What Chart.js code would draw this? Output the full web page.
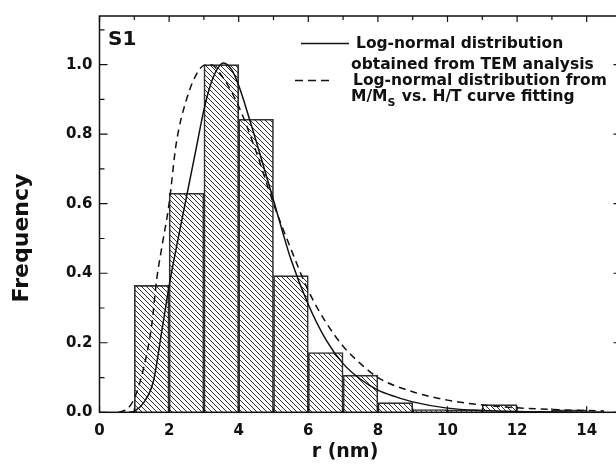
<!DOCTYPE html>
<html>
<head>
<meta charset="utf-8">
<script src="https://cdn.jsdelivr.net/npm/chart.js@4.4.1/dist/chart.umd.min.js"></script>
<style>
    html, body { margin: 0; padding: 0; background: #fff; overflow: hidden; }
    #wrap { width: 623px; height: 465px; }
</style>
</head>
<body>
<div id="wrap"><canvas id="sizeChart" width="623" height="465"></canvas></div>
<script>
// Histogram bins (bin centres in nm) and normalised counts
const binCenters = [1.5, 2.5, 3.5, 4.5, 5.5, 6.5, 7.5, 8.5, 9.5, 10.5, 11.5, 12.5, 13.5];
const binFreq = [0.365, 0.63, 1.0, 0.843, 0.393, 0.172, 0.107, 0.028, 0.008, 0.007, 0.022, 0, 0.007];

// Log-normal fit from TEM (solid line)
const temR = [0.85, 1.0, 1.25, 1.55, 1.8, 2.03, 2.36, 2.8, 3.0, 3.2, 3.4, 3.56, 3.8, 4.0, 4.32, 5.0, 5.5, 6.0, 6.5, 7.0, 7.5, 8.0, 8.5, 9.0, 10, 11, 12, 13, 14, 14.5];
const temFreq = [0, 0.003, 0.025, 0.09, 0.24, 0.38, 0.55, 0.77, 0.87, 0.945, 0.99, 1.005, 0.985, 0.94, 0.84, 0.61, 0.44, 0.31, 0.21, 0.14, 0.095, 0.064, 0.045, 0.03, 0.012, 0.005, 0.002, 0.001, 0, 0];

// Log-normal from M/Ms vs H/T fitting (dashed line)
const fitR = [0.55, 0.8, 1.0, 1.25, 1.5, 1.64, 1.8, 2.0, 2.2, 2.5, 2.8, 3.0, 3.2, 3.5, 4.0, 4.5, 5.0, 5.5, 6.0, 6.5, 7.0, 7.5, 8.0, 9.0, 10, 11, 12, 13, 14, 14.5];
const fitFreq = [0, 0.01, 0.04, 0.12, 0.25, 0.38, 0.48, 0.60, 0.77, 0.90, 0.975, 0.998, 1.0, 0.97, 0.88, 0.75, 0.60, 0.47, 0.35, 0.26, 0.19, 0.14, 0.10, 0.059, 0.035, 0.021, 0.013, 0.008, 0.005, 0.004];

const xTicks = [0, 2, 4, 6, 8, 10, 12, 14];
const yTicks = [0, 0.2, 0.4, 0.6, 0.8, 1.0];

const FONT = "'DejaVu Sans', 'Liberation Sans', Arial, sans-serif";

function makeHatch() {
    const c = document.createElement('canvas');
    c.width = 5; c.height = 5;
    const g = c.getContext('2d');
    g.strokeStyle = '#1a1a1a';
    g.lineWidth = 0.9;
    g.beginPath();
    g.moveTo(0, 0); g.lineTo(5, 5);
    g.moveTo(-1, 4); g.lineTo(1, 6);
    g.moveTo(4, -1); g.lineTo(6, 1);
    g.stroke();
    return g.createPattern(c, 'repeat');
}

// frame, inward ticks, panel label, legend and axis titles
const decorPlugin = {
    id: 'decor',
    afterDraw(chart) {
        const ctx = chart.ctx;
        const a = chart.chartArea;
        const xs = chart.scales.x, ys = chart.scales.y;
        ctx.save();
        ctx.strokeStyle = '#111';
        ctx.lineWidth = 1.5;
        ctx.strokeRect(a.left, a.top, a.right - a.left, a.bottom - a.top);

        ctx.lineWidth = 1.2;
        ctx.beginPath();
        for (let v = 0; v <= 15; v++) {
            const px = xs.getPixelForValue(v);
            const len = v % 2 === 0 ? 6 : 4;
            ctx.moveTo(px, a.bottom); ctx.lineTo(px, a.bottom - len);
            ctx.moveTo(px, a.top); ctx.lineTo(px, a.top + len);
        }
        for (let i = 0; i <= 11; i++) {
            const v = i / 10;
            const py = ys.getPixelForValue(v);
            const len = i % 2 === 0 ? 8 : 5;
            ctx.moveTo(a.left, py); ctx.lineTo(a.left + len, py);
            if (i % 2 === 0) { ctx.moveTo(a.right, py); ctx.lineTo(a.right - 8, py); }
        }
        ctx.stroke();

        ctx.fillStyle = '#111';
        ctx.textBaseline = 'middle';
        ctx.textAlign = 'left';
        ctx.font = 'bold 20px ' + FONT;
        ctx.fillText('S1', 108, 40);

        // legend
        ctx.lineWidth = 1.5;
        ctx.beginPath();
        ctx.moveTo(301, 43.5); ctx.lineTo(349, 43.5);
        ctx.stroke();
        ctx.setLineDash([8, 5]);
        ctx.beginPath();
        ctx.moveTo(295, 80.5); ctx.lineTo(334, 80.5);
        ctx.stroke();
        ctx.setLineDash([]);

        ctx.font = 'bold 15.5px ' + FONT;
        ctx.fillText('Log-normal distribution', 356, 44);
        ctx.fillText('obtained from TEM analysis', 351, 65);
        ctx.fillText('Log-normal distribution from', 353, 81);
        let x = 351;
        ctx.fillText('M/M', x, 97);
        x += ctx.measureText('M/M').width;
        ctx.font = 'bold 11px ' + FONT;
        ctx.fillText('S', x, 103);
        x += ctx.measureText('S').width + 1;
        ctx.font = 'bold 15.5px ' + FONT;
        ctx.fillText(' vs. H/T curve fitting', x, 97);

        // axis titles
        ctx.textAlign = 'center';
        ctx.font = 'bold 19px ' + FONT;
        ctx.fillText('r (nm)', 345, 452);
        ctx.save();
        ctx.translate(22, 238);
        ctx.rotate(-Math.PI / 2);
        ctx.font = 'bold 22px ' + FONT;
        ctx.fillText('Frequency', 0, 0);
        ctx.restore();
        ctx.restore();
    }
};

const ctx = document.getElementById('sizeChart').getContext('2d');
new Chart(ctx, {
    type: 'bar',
    data: {
        datasets: [
            {
                type: 'line',
                label: 'Log-normal distribution obtained from TEM analysis',
                data: temR.map((r, i) => ({ x: r, y: temFreq[i] })),
                borderColor: '#111',
                borderWidth: 1.5,
                pointRadius: 0,
                cubicInterpolationMode: 'monotone',
                order: 1
            },
            {
                type: 'line',
                label: 'Log-normal distribution from M/Ms vs. H/T curve fitting',
                data: fitR.map((r, i) => ({ x: r, y: fitFreq[i] })),
                borderColor: '#111',
                borderWidth: 1.5,
                borderDash: [7, 5],
                pointRadius: 0,
                cubicInterpolationMode: 'monotone',
                order: 1
            },
            {
                label: 'Histogram',
                data: binCenters.map((r, i) => ({ x: r, y: binFreq[i] })),
                backgroundColor: makeHatch(),
                borderColor: '#333',
                borderWidth: 1,
                barPercentage: 1,
                categoryPercentage: 1,
                order: 2
            }
        ]
    },
    options: {
        responsive: false,
        animation: false,
        devicePixelRatio: 1,
        layout: { padding: { left: 0, top: 13.3, right: 1.5, bottom: 0 } },
        plugins: { legend: { display: false }, tooltip: { enabled: false } },
        scales: {
            x: {
                type: 'linear',
                min: 0,
                max: 15,
                offset: false,
                afterFit: s => { s.height = 52.7; },
                afterBuildTicks: s => { s.ticks = xTicks.map(v => ({ value: v })); },
                grid: { display: false, drawTicks: false },
                border: { display: false },
                ticks: {
                    color: '#111',
                    padding: 10,
                    maxRotation: 0,
                    font: { family: FONT, size: 15, weight: 'bold' }
                }
            },
            y: {
                min: 0,
                max: 1.14,
                afterFit: s => { s.width = 99.5; },
                afterBuildTicks: s => { s.ticks = yTicks.map(v => ({ value: v })); },
                grid: { display: false, drawTicks: false },
                border: { display: false },
                ticks: {
                    color: '#111',
                    padding: 7,
                    callback: v => v.toFixed(1),
                    font: { family: FONT, size: 15, weight: 'bold' }
                }
            }
        }
    },
    plugins: [decorPlugin]
});
</script>
</body>
</html>
